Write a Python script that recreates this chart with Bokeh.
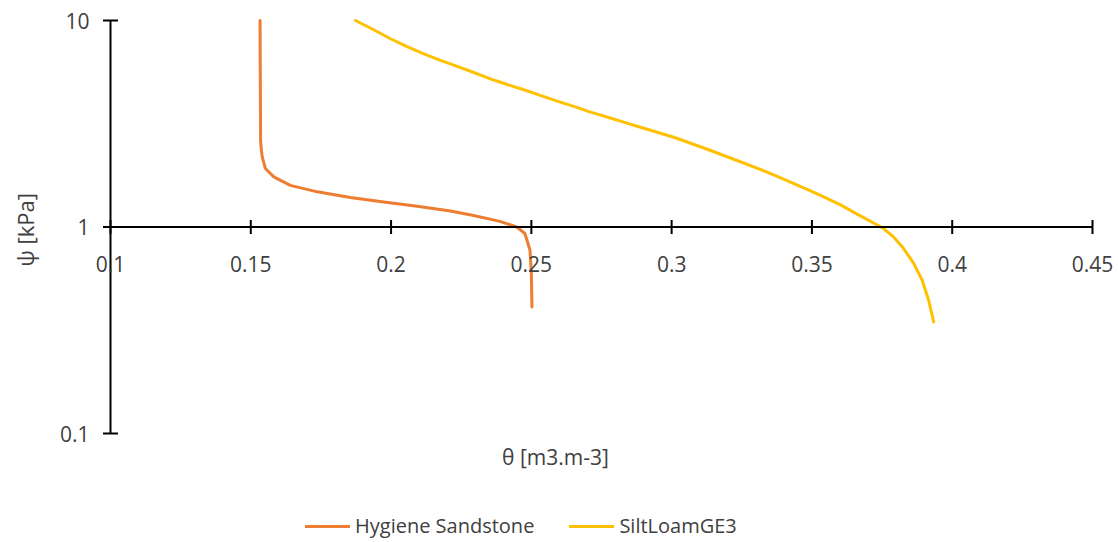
import math
from bokeh.plotting import figure
from bokeh.models import Legend, LegendItem
from bokeh.core.properties import value
from bokeh.embed import file_html
from bokeh.resources import INLINE

# ---- data ----
sand_theta = [0.1533, 0.1534, 0.1535, 0.1537, 0.1541, 0.1552, 0.1582, 0.1641, 0.1737,
              0.1855, 0.1974, 0.2093, 0.2212, 0.2290, 0.2388, 0.2448, 0.2477, 0.2495,
              0.2500, 0.2502]
sand_psi = [10.0, 5.0, 2.63, 2.40, 2.18, 1.92, 1.75, 1.59, 1.48,
            1.39, 1.32, 1.26, 1.195, 1.14, 1.065, 1.00, 0.93, 0.774,
            0.60, 0.41]

silt_theta = [0.1873, 0.1938, 0.1998, 0.2057, 0.2117, 0.2176, 0.2236, 0.2295, 0.2354,
              0.2414, 0.2473, 0.2532, 0.2592, 0.2651, 0.2711, 0.2770, 0.2829, 0.2889,
              0.3008, 0.3127, 0.3245, 0.3364, 0.3483, 0.3542, 0.3602, 0.3661, 0.3720,
              0.3756, 0.3791, 0.3827, 0.3863, 0.3893, 0.3916, 0.3934]
silt_psi = [10.0, 9.02, 8.16, 7.48, 6.90, 6.41, 5.99, 5.60, 5.22,
            4.90, 4.62, 4.34, 4.07, 3.84, 3.60, 3.41, 3.22, 3.04,
            2.72, 2.38, 2.07, 1.79, 1.52, 1.40, 1.28, 1.155, 1.045,
            0.98, 0.895, 0.786, 0.665, 0.552, 0.442, 0.347]

x_ticks = [0.1, 0.15, 0.2, 0.25, 0.3, 0.35, 0.4, 0.45]
x_tick_labels = ["0.1", "0.15", "0.2", "0.25", "0.3", "0.35", "0.4", "0.45"]
y_ticks = [0.1, 1, 10]
y_tick_labels = ["0.1", "1", "10"]
x_cross = 1  # the θ axis crosses the ψ axis at ψ = 1

x_title = "θ [m3.m-3]"
y_title = "ψ [kPa]"
series_names = ["Hygiene Sandstone", "SiltLoamGE3"]
series_colors = ["#ED7D31", "#FFC000"]

# ---- layout (pixels) ----
W, H = 1118, 542
AX_L, AX_R, AX_T, AX_B = 110, 1092, 20, 433
FONT = value("Open Sans")
TXT = "#404040"

u = (x_ticks[-1] - x_ticks[0]) / (AX_R - AX_L)
x_range = (x_ticks[0] - AX_L * u, x_ticks[-1] + (W - AX_R) * u)
dpx = (AX_B - AX_T) / math.log10(y_ticks[-1] / y_ticks[0])
y_range = (y_ticks[0] / 10 ** ((H - AX_B) / dpx), y_ticks[-1] * 10 ** (AX_T / dpx))

p = figure(width=W, height=H, x_range=x_range, y_range=y_range, y_axis_type="log",
           x_axis_location=None, y_axis_location=None,
           output_backend="svg", toolbar_location=None, min_border=0)
p.outline_line_color = None
p.xgrid.visible = False
p.ygrid.visible = False

# series
r1 = p.line(sand_theta, sand_psi, line_color=series_colors[0], line_width=3,
            line_join="round", line_cap="round")
r2 = p.line(silt_theta, silt_psi, line_color=series_colors[1], line_width=3,
            line_join="round", line_cap="round")

# ψ axis (vertical) at θ = first tick
p.segment(x0=[x_ticks[0]], y0=[y_ticks[0]], x1=[x_ticks[0]], y1=[y_ticks[-1]],
          line_color="black", line_width=2)
p.scatter(x=[x_ticks[0]] * len(y_ticks), y=y_ticks, marker="dash", size=15,
          line_color="black", line_width=2)
p.text(x=[x_ticks[0]] * len(y_ticks), y=y_ticks, text=y_tick_labels, x_offset=-21,
       text_align="right", text_baseline="middle", text_font=FONT,
       text_font_size="21px", text_color=TXT)
y_mid = math.sqrt(y_ticks[0] * y_ticks[-1])
p.text(x=[x_ticks[0]], y=[y_mid], text=[y_title], x_offset=-86, y_offset=3,
       angle=math.pi / 2, text_align="center", text_baseline="middle",
       text_font=FONT, text_font_size="22px", text_color=TXT)

# θ axis (horizontal) crossing at ψ = 1
p.segment(x0=[x_ticks[0]], y0=[x_cross], x1=[x_ticks[-1]], y1=[x_cross],
          line_color="black", line_width=2)
p.scatter(x=x_ticks, y=[x_cross] * len(x_ticks), marker="dash", angle=math.pi / 2,
          size=14, line_color="black", line_width=2)
p.text(x=x_ticks, y=[x_cross] * len(x_ticks), text=x_tick_labels, y_offset=37,
       text_align="center", text_baseline="alphabetic", text_font=FONT,
       text_font_size="21px", text_color=TXT)
x_mid = (x_range[0] + x_range[1]) / 2
p.text(x=[x_mid], y=[y_ticks[0]], text=[x_title], x_offset=-4, y_offset=23,
       text_align="center", text_baseline="middle", text_font=FONT,
       text_font_size="21px", text_color=TXT)

legend = Legend(items=[LegendItem(label=series_names[0], renderers=[r1]),
                       LegendItem(label=series_names[1], renderers=[r2])],
                location=(305, 3), orientation="horizontal",
                glyph_width=45, glyph_height=20, label_standoff=5, spacing=35,
                padding=0, margin=0, border_line_color=None,
                background_fill_alpha=0,
                label_text_font="Open Sans", label_text_font_size="20px",
                label_text_color=TXT)
p.add_layout(legend, "center")

open("out.html", "w").write(file_html(p, INLINE))
